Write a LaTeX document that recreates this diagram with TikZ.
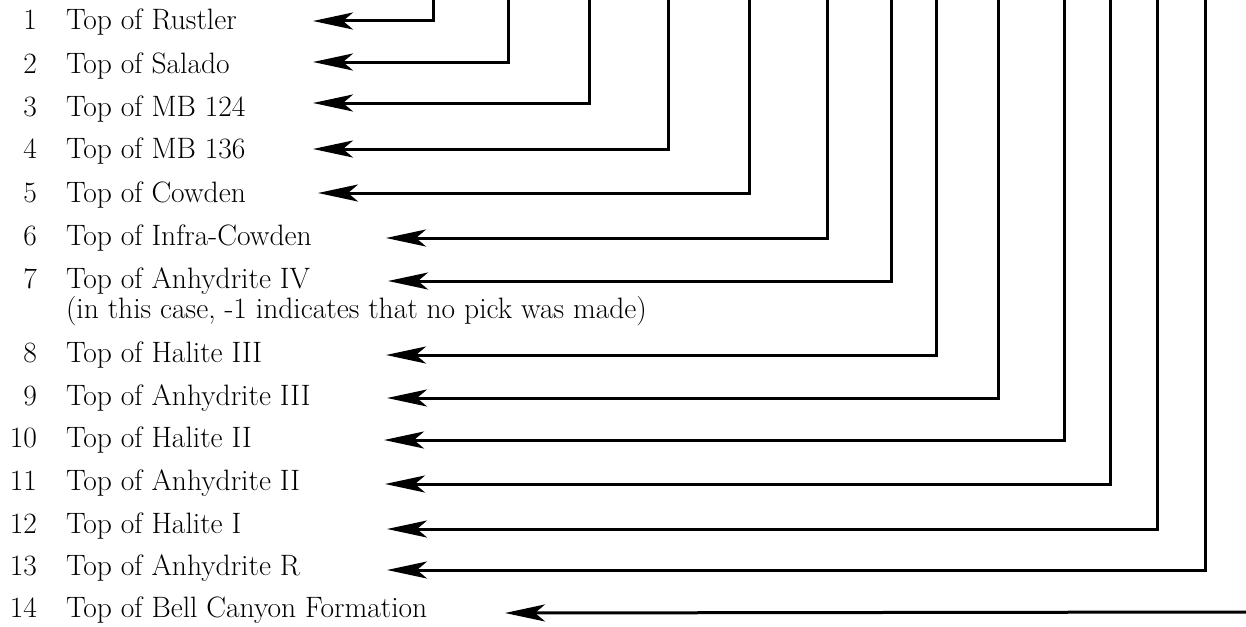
\documentclass[tikz,border=0pt]{standalone}
\usetikzlibrary{arrows.meta}
\begin{document}
\begin{tikzpicture}[x=1pt,y=-1pt,
  lbl/.style={font=\fontsize{29.5}{33}\selectfont, inner sep=0pt, outer sep=0pt},
  conn/.style={line width=3pt, line join=miter, -{Stealth[length=40pt,width=17pt,inset=10pt]}}]
\useasboundingbox (0,0) rectangle (1246,626);
% labels
\foreach \n/\b/\t in {1/30/{Top of Rustler},2/73/{Top of Salado},3/116/{Top of MB 124},4/158/{Top of MB 136},5/202/{Top of Cowden},6/245/{Top of Infra-Cowden},7/288/{Top of Anhydrite IV},8/362/{Top of Halite III},9/405/{Top of Anhydrite III},10/447/{Top of Halite II},11/490/{Top of Anhydrite II},12/533/{Top of Halite I},13/575/{Top of Anhydrite R},14/617/{Top of Bell Canyon Formation}}{
  \node[lbl, anchor=base east] (num\n) at (37,\b) {\n};
  \node[lbl, anchor=base west] (txt\n) at (66,\b) {\t};
}
\node[lbl, anchor=base west] (note7) at (66,318) {(in this case, -1 indicates that no pick was made)};
% connectors
\foreach \n/\ay/\tx/\vx in {1/21/313/433,2/62/313/508,3/103/313/589,4/149/313/668,5/193/318/749,6/238/386/827,7/281/388/891,8/355/386/936,9/398/387/998,10/440/384/1064,11/484/385/1110,12/529/387/1157,13/570/387/1205}{
  \coordinate (tip\n) at (\tx,\ay);
  \coordinate (top\n) at (\vx,0);
  \draw[conn] (top\n) |- (tip\n);
}
\coordinate (tip14) at (505,613);
\coordinate (end14) at (1246,612);
\draw[conn] (end14) -- (tip14);
\end{tikzpicture}
\end{document}
